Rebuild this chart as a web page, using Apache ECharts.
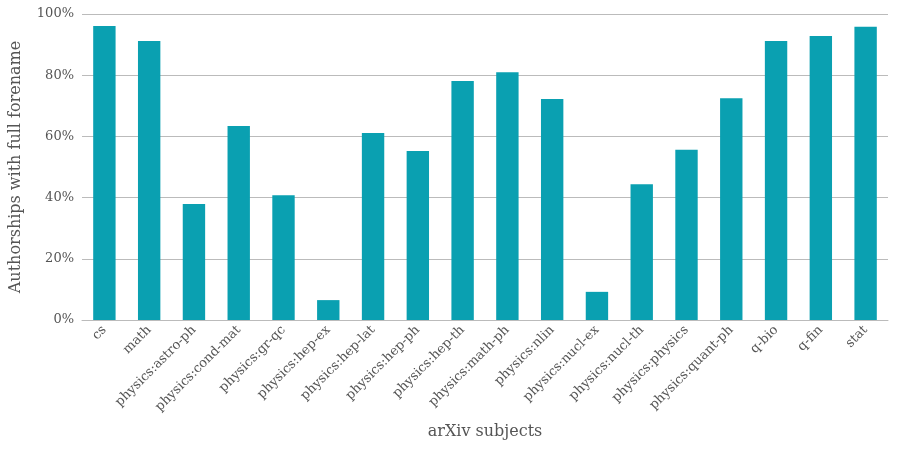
<!DOCTYPE html>
<html><head><meta charset="utf-8">
<script src="https://cdn.jsdelivr.net/npm/echarts@6/dist/echarts.min.js"></script>
<style>html,body{margin:0;padding:0;background:#fff}#c{width:900px;height:450px}</style>
</head><body><div id="c"></div>
<script>
const subjects = ['cs', 'math', 'physics:astro-ph', 'physics:cond-mat', 'physics:gr-qc', 'physics:hep-ex',
    'physics:hep-lat', 'physics:hep-ph', 'physics:hep-th', 'physics:math-ph', 'physics:nlin', 'physics:nucl-ex',
    'physics:nucl-th', 'physics:physics', 'physics:quant-ph', 'q-bio', 'q-fin', 'stat'];
const fullForename = [96.1, 91.2, 37.9, 63.4, 40.8, 6.5, 61.1, 55.2, 78.1, 81.0, 72.2, 9.2, 44.4, 55.6, 72.5, 91.2, 92.8, 95.8];

const font = 'DejaVu Serif';
const chart = echarts.init(document.getElementById('c'));
chart.setOption({
    animation: false,
    grid: { left: 80, right: 12, top: 14, bottom: 130 },
    xAxis: {
        type: 'category',
        data: subjects,
        name: 'arXiv subjects',
        nameLocation: 'middle',
        nameGap: 104,
        nameTextStyle: { fontFamily: font, fontSize: 16, color: '#555' },
        axisLine: { lineStyle: { color: '#bbb' } },
        axisTick: { show: false },
        axisLabel: { rotate: 45, interval: 0, fontFamily: font, fontSize: 13, color: '#555', margin: 8 }
    },
    yAxis: {
        type: 'value',
        min: 0,
        max: 100,
        interval: 20,
        name: 'Authorships with full forename',
        nameLocation: 'middle',
        nameGap: 58,
        nameTextStyle: { fontFamily: font, fontSize: 16, color: '#555' },
        axisLabel: { formatter: '{value}%', fontFamily: font, fontSize: 13, color: '#555' },
        splitLine: { lineStyle: { color: '#bbb' } }
    },
    series: [{
        type: 'bar',
        data: fullForename,
        barWidth: '50%',
        itemStyle: { color: '#0aa0b1' }
    }]
});
</script></body></html>
